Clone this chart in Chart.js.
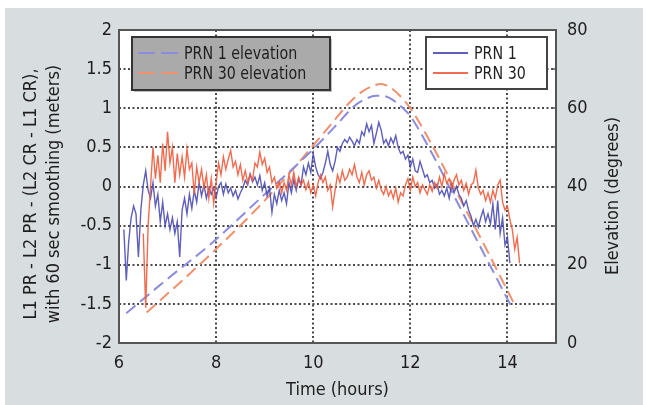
<!DOCTYPE html>
<html><head><meta charset="utf-8">
<script src="https://cdn.jsdelivr.net/npm/chart.js@4/dist/chart.umd.min.js"></script>
<style>html,body{margin:0;padding:0;background:#fff;overflow:hidden}#c{position:absolute;left:0;top:0}</style>
</head><body>
<canvas id="c" width="646" height="405"></canvas>
<script>
// ---- data ----
const xTicks = [6, 8, 10, 12, 14];
const yTicks = [-2, -1.5, -1, -0.5, 0, 0.5, 1, 1.5, 2];
const y2Ticks = [0, 20, 40, 60, 80];
const seriesLabels = ['PRN 1', 'PRN 30'];
const elevLabels = ['PRN 1 elevation', 'PRN 30 elevation'];
const xTitle = 'Time (hours)';
const yTitle = ['L1 PR - L2 PR - (L2 CR - L1 CR),', 'with 60 sec smoothing (meters)'];
const y2Title = 'Elevation (degrees)';

const prn1Start = 6.10, prn30Start = 6.50, sampleStep = 0.05;
const prn1Values = [
 -0.55,-1.20,-0.70,-0.40,-0.25,-0.35,-0.90,-0.30,0.02,0.20,
 -0.05,-0.15,0.05,-0.25,-0.10,-0.45,-0.20,-0.50,-0.35,-0.55,
 -0.40,-0.60,-0.45,-0.90,-0.30,-0.15,-0.35,-0.10,-0.28,-0.05,
 -0.20,0.05,-0.12,0.02,-0.15,-0.02,-0.10,-0.02,-0.14,0.00,
 0.05,-0.10,0.03,-0.08,-0.02,-0.12,-0.05,-0.16,-0.08,-0.02,
 0.08,0.02,0.16,0.06,0.12,0.02,0.14,-0.05,0.05,-0.12,
 -0.02,-0.33,-0.10,-0.22,-0.05,-0.18,-0.08,-0.22,0.05,-0.08,
 0.09,-0.05,0.10,0.02,0.25,0.15,0.30,0.18,0.42,0.25,
 0.15,0.10,0.18,0.30,0.45,0.28,0.20,0.32,0.50,0.45,
 0.55,0.60,0.56,0.63,0.58,0.52,0.60,0.55,0.70,0.65,
 0.80,0.70,0.78,0.55,0.68,0.82,0.72,0.55,0.60,0.52,
 0.62,0.55,0.65,0.50,0.42,0.45,0.35,0.40,0.25,0.35,
 0.20,0.18,0.32,0.22,0.12,0.15,0.05,0.08,-0.02,0.03,
 -0.10,-0.05,-0.12,-0.02,-0.15,0.02,-0.08,0.00,-0.10,-0.15,
 -0.25,-0.18,-0.30,-0.38,-0.50,-0.42,-0.52,-0.40,-0.30,-0.45,
 -0.35,-0.48,-0.22,-0.55,-0.18,-0.60,-0.40,-0.75,-0.65,-0.98
];
const prn30Values = [
 -0.60,-1.55,-0.50,0.00,0.50,0.10,0.40,0.05,0.55,0.20,
 0.70,0.30,0.50,0.05,0.42,0.15,0.38,0.12,0.48,0.22,
 0.30,-0.10,0.25,0.05,0.22,-0.02,0.15,-0.15,0.10,-0.22,
 0.05,0.30,0.15,0.38,0.22,0.35,0.46,0.25,0.32,0.15,
 0.28,0.08,0.20,0.05,0.15,0.08,0.30,0.25,0.44,0.28,
 0.36,0.18,0.25,0.05,0.12,-0.02,0.06,-0.08,0.05,-0.05,
 0.15,0.02,0.18,0.00,0.12,0.02,0.08,-0.04,0.06,-0.08,
 0.02,-0.12,0.05,0.15,0.05,0.12,-0.05,0.02,-0.26,-0.05,
 0.15,0.05,0.20,0.08,0.12,0.22,0.15,0.28,0.12,0.05,
 0.18,0.02,0.15,0.20,0.08,0.12,-0.02,0.08,-0.04,-0.10,
 0.00,-0.12,-0.05,-0.15,-0.02,-0.20,-0.08,-0.12,0.02,0.10,
 -0.05,0.12,0.00,0.05,-0.08,0.02,-0.04,-0.10,0.02,-0.06,
 0.05,-0.02,0.12,0.00,0.16,0.04,0.10,-0.02,0.08,0.15,
 0.02,0.08,-0.05,0.04,-0.10,0.02,0.05,0.21,-0.02,-0.10,
 -0.05,-0.18,-0.08,-0.20,-0.05,-0.15,0.02,0.08,-0.20,-0.30,
 -0.25,-0.42,-0.55,-0.80,-0.65,-0.98
];
const prn1ElevTimes = [6.15, 7.0, 7.88, 9.0, 9.94, 10.5, 10.83, 11.05, 11.3, 11.5, 11.7, 11.85, 12.0, 12.5, 12.8, 13.0, 13.5, 14.06];
const prn1ElevDeg   = [7.6, 16.4, 25.2, 38.0, 48.8, 56.0, 60.4, 62.2, 63.2, 63.0, 61.6, 60.0, 58.0, 47.2, 40.0, 35.2, 23.2, 9.8];
const prn30ElevTimes = [6.57, 7.88, 9.0, 9.94, 10.4, 10.76, 11.0, 11.2, 11.4, 11.6, 11.8, 12.0, 12.5, 12.89, 13.5, 14.0, 14.18];
const prn30ElevDeg   = [7.8, 22.6, 36.4, 49.6, 56.4, 61.6, 64.2, 65.6, 66.2, 65.2, 63.0, 60.0, 49.4, 40.0, 25.6, 13.4, 9.0];

// ---- styles ----
const FONT = '"DejaVu Sans Condensed","DejaVu Sans",sans-serif';
const TXT = '#1e1e1e';
const C_P1 = 'rgba(76,76,180,0.9)';
const C_P30 = 'rgba(240,92,60,0.9)';
const C_E1 = '#8c8cdc';
const C_E30 = '#f0906c';
const DASH = [12, 6];

const toPts = (start, vals) => vals.map((v, i) => ({x: +(start + i * sampleStep).toFixed(2), y: v}));
const pairPts = (ts, vs) => ts.map((t, i) => ({x: t, y: vs[i]}));

const bgPlugin = {
  id: 'bg',
  beforeDraw(chart) {
    const {ctx, chartArea: a} = chart;
    ctx.save();
    ctx.fillStyle = '#ffffff';
    ctx.fillRect(0, 0, chart.width, chart.height);
    ctx.fillStyle = '#d8dde0';
    ctx.fillRect(5, 8, 638, 397);
    ctx.fillStyle = '#ffffff';
    ctx.fillRect(a.left, a.top, a.right - a.left, a.bottom - a.top);
    ctx.restore();
  },
  beforeDatasetsDraw(chart) {
    const {ctx, chartArea: a, scales} = chart;
    ctx.save();
    ctx.strokeStyle = '#4a4a4a';
    ctx.lineWidth = 2;
    ctx.setLineDash([2, 2.5]);
    xTicks.forEach(v => {
      const px = Math.round(scales.x.getPixelForValue(v));
      if (px <= a.left + 2 || px >= a.right - 2) return;
      ctx.beginPath(); ctx.moveTo(px, a.top); ctx.lineTo(px, a.bottom); ctx.stroke();
    });
    yTicks.forEach(v => {
      const py = Math.round(scales.y.getPixelForValue(v));
      if (py <= a.top + 2 || py >= a.bottom - 2) return;
      ctx.beginPath(); ctx.moveTo(a.left, py); ctx.lineTo(a.right, py); ctx.stroke();
    });
    ctx.restore();
  },
  afterDatasetsDraw(chart) {
    const {ctx, chartArea: a, scales} = chart;
    ctx.save();
    // frame
    ctx.strokeStyle = '#555';
    ctx.lineWidth = 2;
    ctx.strokeRect(a.left, a.top, a.right - a.left, a.bottom - a.top);
    // inner tick marks on right axis
    ctx.lineWidth = 1.5;
    for (let d = 10; d < 80; d += 10) {
      const py = Math.round(scales.y2.getPixelForValue(d));
      ctx.beginPath(); ctx.moveTo(a.right, py); ctx.lineTo(a.right - 5, py); ctx.stroke();
    }
    const ds = chart.data.datasets;
    ctx.textBaseline = 'middle';
    ctx.textAlign = 'left';
    ctx.font = '18px ' + FONT;
    const narrowText = (text, x, y) => {
      ctx.save(); ctx.translate(x, y); ctx.scale(0.88, 1); ctx.fillText(text, 0, 0); ctx.restore();
    };
    // legend 1 (elevations)
    ctx.fillStyle = 'rgba(0,0,0,0.25)';
    ctx.fillRect(134, 39, 198, 53);
    ctx.fillStyle = '#aaaaaa';
    ctx.fillRect(132, 37, 198, 53);
    ctx.strokeStyle = '#333';
    ctx.lineWidth = 2;
    ctx.strokeRect(132, 37, 198, 53);
    [[ds[2], 53], [ds[3], 73]].forEach(([d, y]) => {
      ctx.strokeStyle = d.borderColor; ctx.lineWidth = 2; ctx.setLineDash([17, 6]);
      ctx.beginPath(); ctx.moveTo(138, y); ctx.lineTo(179, y); ctx.stroke();
      ctx.setLineDash([]);
      ctx.fillStyle = TXT; narrowText(d.label, 184, y + 1);
    });
    // legend 2 (series)
    ctx.fillStyle = '#ffffff';
    ctx.fillRect(426, 37, 121, 52);
    ctx.strokeStyle = '#444'; ctx.lineWidth = 2;
    ctx.strokeRect(426, 37, 121, 52);
    [[ds[1], 53], [ds[0], 73]].forEach(([d, y]) => {
      ctx.strokeStyle = d.borderColor; ctx.lineWidth = 2;
      ctx.beginPath(); ctx.moveTo(433, y); ctx.lineTo(468, y); ctx.stroke();
      ctx.fillStyle = TXT; narrowText(d.label, 474, y + 1);
    });
    // axis titles (read bottom to top)
    ctx.fillStyle = TXT;
    ctx.font = '18px ' + FONT;
    ctx.textAlign = 'center';
    const rot = (text, x, y) => {
      ctx.save(); ctx.translate(x, y); ctx.rotate(-Math.PI / 2); ctx.fillText(text, 0, 0); ctx.restore();
    };
    rot(yTitle[0], 31, 194);
    rot(yTitle[1], 54, 194);
    rot(y2Title, 613, 196);
    ctx.restore();
  }
};

new Chart(document.getElementById('c'), {
  type: 'line',
  data: {
    datasets: [
      {label: seriesLabels[1], data: toPts(prn30Start, prn30Values), yAxisID: 'y', borderColor: C_P30, borderWidth: 1.4, pointRadius: 0, tension: 0},
      {label: seriesLabels[0], data: toPts(prn1Start, prn1Values), yAxisID: 'y', borderColor: C_P1, borderWidth: 1.4, pointRadius: 0, tension: 0},
      {label: elevLabels[0], data: pairPts(prn1ElevTimes, prn1ElevDeg), yAxisID: 'y2', borderColor: C_E1, borderWidth: 2, borderDash: DASH, pointRadius: 0, cubicInterpolationMode: 'monotone'},
      {label: elevLabels[1], data: pairPts(prn30ElevTimes, prn30ElevDeg), yAxisID: 'y2', borderColor: C_E30, borderWidth: 2, borderDash: DASH, pointRadius: 0, cubicInterpolationMode: 'monotone'}
    ]
  },
  options: {
    responsive: false,
    animation: false,
    devicePixelRatio: 1,
    layout: {padding: {top: 30, left: 0, right: 0, bottom: 0}},
    plugins: {legend: {display: false}, tooltip: {enabled: false}},
    scales: {
      x: {
        type: 'linear', position: 'bottom', min: 6, max: 15,
        afterBuildTicks: s => { s.ticks = xTicks.map(v => ({value: v})); },
        afterFit: s => { s.height = 62; },
        grid: {display: false, drawTicks: false}, border: {display: false},
        ticks: {font: {family: FONT, size: 18}, color: TXT, padding: 10, maxRotation: 0, autoSkip: false},
        title: {display: true, text: xTitle, font: {family: FONT, size: 18}, color: TXT, padding: {top: 0, bottom: 4}}
      },
      y: {
        type: 'linear', position: 'left', min: -2, max: 2,
        afterBuildTicks: s => { s.ticks = yTicks.map(v => ({value: v})); },
        afterFit: s => { s.width = 119; },
        grid: {display: false, drawTicks: false}, border: {display: false},
        ticks: {font: {family: FONT, size: 18}, color: TXT, padding: 7, callback: v => String(v)}
      },
      y2: {
        type: 'linear', position: 'right', min: 0, max: 80,
        afterBuildTicks: s => { s.ticks = y2Ticks.map(v => ({value: v})); },
        afterFit: s => { s.width = 90; },
        grid: {display: false, drawTicks: false}, border: {display: false},
        ticks: {font: {family: FONT, size: 18}, color: TXT, padding: 11, callback: v => String(v)}
      }
    }
  },
  plugins: [bgPlugin]
});
</script>
</body></html>
